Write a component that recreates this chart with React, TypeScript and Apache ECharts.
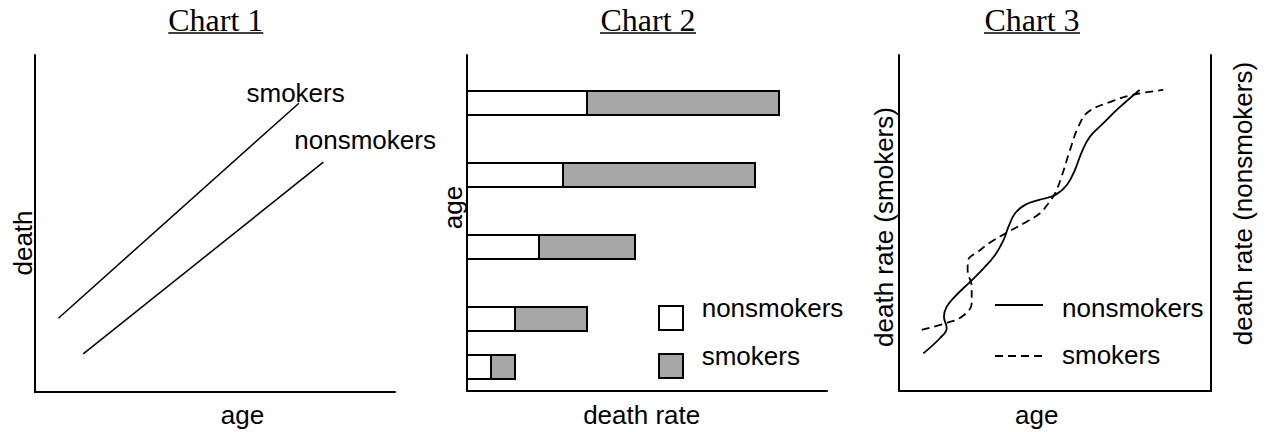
import React, { useEffect, useRef } from "react";
import * as echarts from "echarts";

// ---------- data ----------
const chartTitles = ["Chart 1", "Chart 2", "Chart 3"];

// Chart 1: death vs age, straight lines (arbitrary units 0–100)
const chart1Smokers: [number, number][] = [
  [6.5, 21.9],
  [73.3, 85.7],
];
const chart1Nonsmokers: [number, number][] = [
  [13.4, 11.3],
  [80.1, 68.2],
];

// Chart 2: stacked horizontal bars (age on y, death rate on x)
const chart2Ages = [1, 3, 6, 9, 12];
const chart2Nonsmokers = [1, 2, 3, 4, 5];
const chart2Smokers = [1, 3, 4, 8, 8];

// Chart 3: wavy curves, [age, death rate]
const chart3Nonsmokers: [number, number][] = [
  [7.8, 11.2], [13.1, 15.7], [15.3, 18.7], [14.4, 22.1], [15.3, 25.1],
  [17.9, 28.1], [22.8, 32.5], [27.1, 36.5], [30.8, 40.5], [33.5, 44.9],
  [35.1, 48.9], [37.2, 52.9], [40.4, 55.4], [44.7, 56.8], [50.0, 58.3],
  [53.8, 61.3], [56.4, 65.8], [58.6, 71.2], [61.2, 75.7], [65.5, 79.7],
  [70.3, 84.1], [77.1, 89.6],
];
const chart3Smokers: [number, number][] = [
  [7.3, 18.2], [14.7, 20.1], [20.1, 22.1], [23.3, 26.1], [23.3, 31.0],
  [22.0, 36.0], [22.2, 39.0], [25.4, 41.5], [29.7, 44.5], [35.1, 47.4],
  [40.9, 50.4], [45.2, 52.9], [47.9, 55.9], [50.0, 58.8], [52.1, 63.8],
  [54.8, 71.7], [57.5, 78.7], [60.7, 83.1], [68.2, 86.2], [74.6, 88.1],
  [84.7, 89.6],
];

// ---------- styling helpers ----------
const SANS = "Liberation Sans";
const SERIF = "Liberation Serif";
const GRAY = "#a6a6a6";

const axisBase = {
  type: "value" as const,
  axisLine: { show: true, onZero: false, lineStyle: { color: "#000", width: 2 } },
  axisTick: { show: false },
  axisLabel: { show: false },
  splitLine: { show: false },
};

function txt(
  text: string,
  x: number,
  y: number,
  opts: { align?: string; rotation?: number; font?: string; size?: number } = {}
) {
  const align = opts.align || "center";
  return {
    type: "text",
    x,
    y,
    rotation: opts.rotation || 0,
    style: {
      text,
      fill: "#000",
      fontFamily: opts.font || SANS,
      fontSize: opts.size || 26,
      align,
      verticalAlign: "middle",
      textAlign: align,
      textVerticalAlign: "middle",
    },
  };
}

function hline(x1: number, x2: number, y: number, width: number, dash?: number[]) {
  return {
    type: "line",
    shape: { x1, y1: y, x2, y2: y },
    style: { stroke: "#000", lineWidth: width, lineDash: dash },
  };
}

export default function App() {
  const ref = useRef<HTMLDivElement>(null);

  useEffect(() => {
    if (!ref.current) return;
    const chart = echarts.init(ref.current, undefined, { renderer: "svg" });

    const barData = chart2Ages.map((a, i) => [a, chart2Nonsmokers[i], chart2Smokers[i]]);

    const makeBar = (name: string, fill: string, isSmoker: boolean) => ({
      type: "custom",
      name,
      xAxisIndex: 1,
      yAxisIndex: 1,
      data: barData,
      renderItem: (_params: any, api: any) => {
        const age = api.value(0);
        const ns = api.value(1);
        const sm = api.value(2);
        const start = isSmoker ? ns : 0;
        const end = isSmoker ? ns + sm : ns;
        const p0 = api.coord([start, age]);
        const p1 = api.coord([end, age]);
        const h = api.size([0, 1])[1];
        return {
          type: "rect",
          shape: { x: p0[0], y: p0[1] - h / 2, width: p1[0] - p0[0], height: h },
          style: { fill, stroke: "#000", lineWidth: 2 },
        };
      },
    });

    const titleCenters = [215.8, 648, 1032];
    const titleHalfWidths = [47.5, 48, 48];

    const graphic: any[] = [];
    chartTitles.forEach((t, i) => {
      graphic.push(txt(t, titleCenters[i], 20, { font: SERIF, size: 32 }));
      graphic.push(
        hline(titleCenters[i] - titleHalfWidths[i], titleCenters[i] + titleHalfWidths[i], 33, 1.5)
      );
    });

    // chart 1 labels
    graphic.push(txt("smokers", 246.5, 92.5, { align: "left" }));
    graphic.push(txt("nonsmokers", 294.3, 140, { align: "left" }));
    graphic.push(txt("death", 23, 243, { rotation: Math.PI / 2 }));
    graphic.push(txt("age", 242.5, 414.5));

    // chart 2 labels + legend
    graphic.push(txt("age", 452.5, 207.5, { rotation: Math.PI / 2 }));
    graphic.push(txt("death rate", 641.7, 414.5));
    graphic.push({
      type: "rect",
      shape: { x: 659, y: 306, width: 24, height: 24 },
      style: { fill: "#fff", stroke: "#000", lineWidth: 2 },
    });
    graphic.push({
      type: "rect",
      shape: { x: 659, y: 354, width: 24, height: 24 },
      style: { fill: GRAY, stroke: "#000", lineWidth: 2 },
    });
    graphic.push(txt("nonsmokers", 701.7, 308, { align: "left" }));
    graphic.push(txt("smokers", 701.7, 356, { align: "left" }));

    // chart 3 labels + legend
    graphic.push(txt("death rate (smokers)", 883.5, 227, { rotation: Math.PI / 2 }));
    graphic.push(txt("death rate (nonsmokers)", 1243, 203.5, { rotation: Math.PI / 2 }));
    graphic.push(txt("age", 1036.7, 414.5));
    graphic.push(hline(995, 1043, 305, 1.8));
    graphic.push(hline(995, 1043, 356, 1.8, [8, 5]));
    graphic.push(txt("nonsmokers", 1062, 308, { align: "left" }));
    graphic.push(txt("smokers", 1062, 355, { align: "left" }));

    const lineStyle = (width: number, dash?: number[]) => ({
      color: "#000",
      width,
      type: dash ? dash : "solid",
    });

    chart.setOption({
      animation: false,
      backgroundColor: "#fff",
      grid: [
        { left: 35, top: 55, width: 360, height: 337 },
        { left: 467, top: 55, width: 360, height: 336 },
        { left: 899, top: 55, width: 312, height: 336 },
      ],
      xAxis: [
        { ...axisBase, gridIndex: 0, min: 0, max: 100 },
        { ...axisBase, gridIndex: 1, min: 0, max: 15 },
        { ...axisBase, gridIndex: 2, min: 0, max: 100 },
      ],
      yAxis: [
        { ...axisBase, gridIndex: 0, min: 0, max: 100 },
        { ...axisBase, gridIndex: 1, min: 0, max: 14 },
        { ...axisBase, gridIndex: 2, min: 0, max: 100, position: "left" },
        { ...axisBase, gridIndex: 2, min: 0, max: 100, position: "right" },
      ],
      series: [
        {
          type: "line",
          name: "smokers",
          xAxisIndex: 0,
          yAxisIndex: 0,
          data: chart1Smokers,
          showSymbol: false,
          lineStyle: lineStyle(1.5),
        },
        {
          type: "line",
          name: "nonsmokers",
          xAxisIndex: 0,
          yAxisIndex: 0,
          data: chart1Nonsmokers,
          showSymbol: false,
          lineStyle: lineStyle(1.5),
        },
        makeBar("nonsmokers", "#fff", false),
        makeBar("smokers", GRAY, true),
        {
          type: "line",
          name: "nonsmokers",
          xAxisIndex: 2,
          yAxisIndex: 2,
          data: chart3Nonsmokers,
          smooth: 0.4,
          showSymbol: false,
          lineStyle: lineStyle(1.8),
        },
        {
          type: "line",
          name: "smokers",
          xAxisIndex: 2,
          yAxisIndex: 2,
          data: chart3Smokers,
          smooth: 0.4,
          showSymbol: false,
          lineStyle: lineStyle(1.8, [8, 5]),
        },
      ],
      graphic,
    });

    return () => chart.dispose();
  }, []);

  return (
    <div
      ref={ref}
      style={{ position: "absolute", left: 0, top: 0, width: 1265, height: 432, background: "#fff" }}
    />
  );
}
